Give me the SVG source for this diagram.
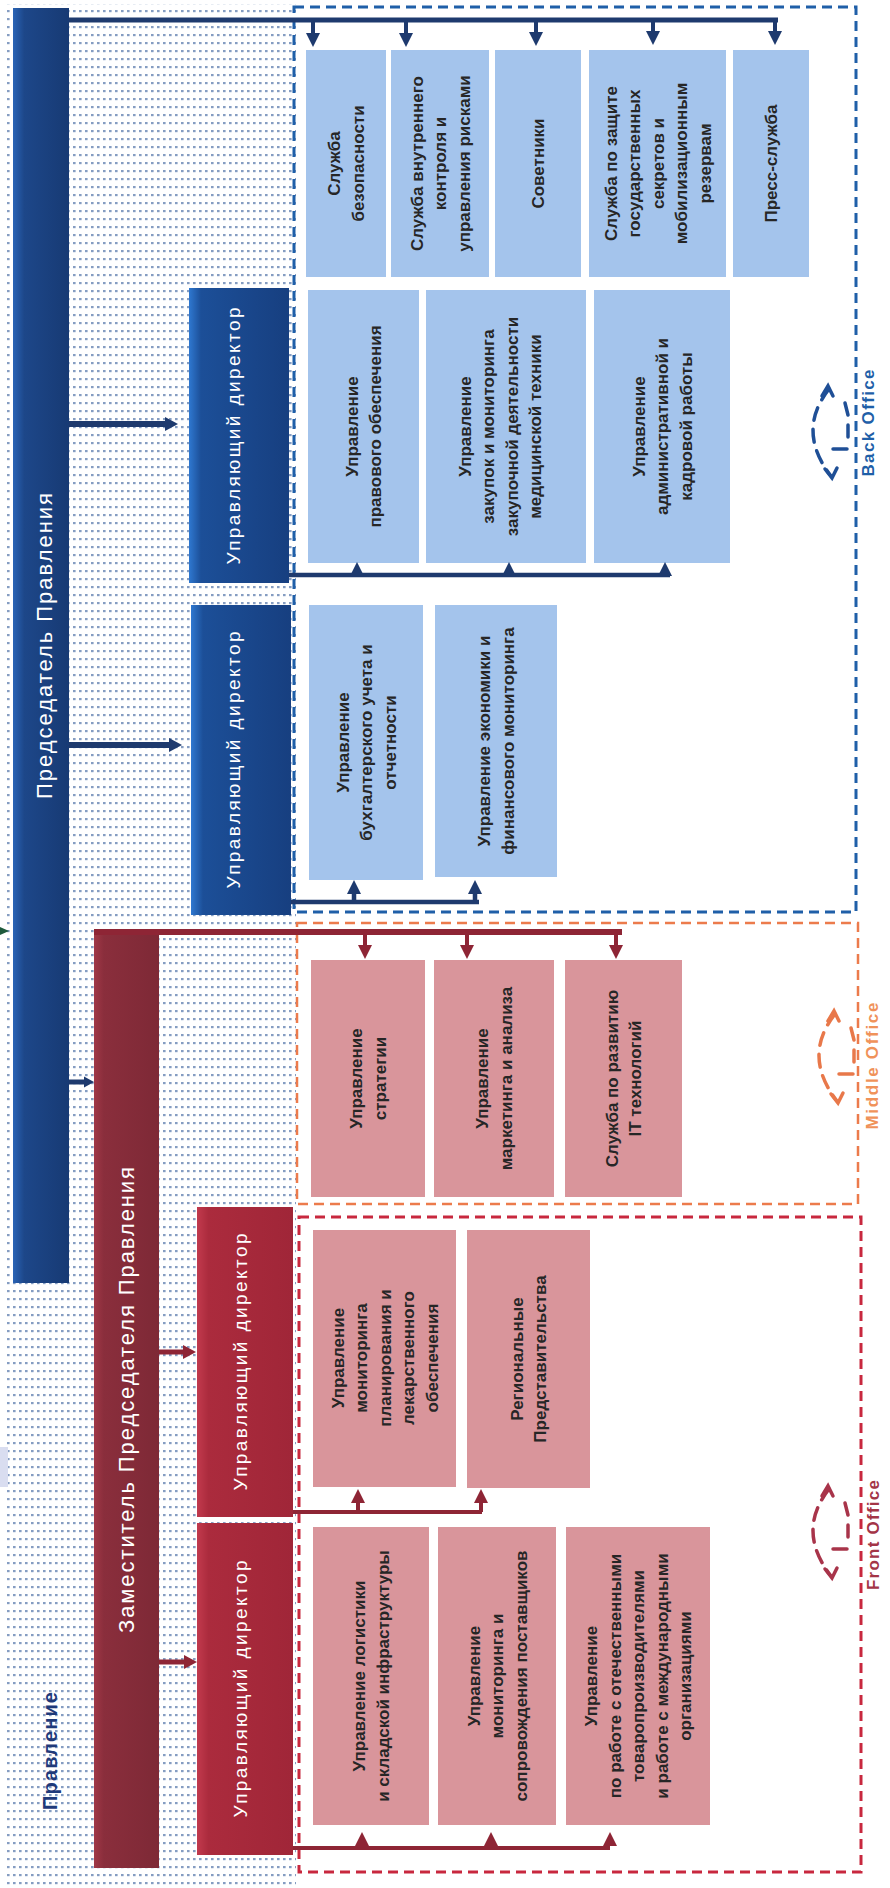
<svg xmlns="http://www.w3.org/2000/svg" xmlns:xlink="http://www.w3.org/1999/xlink" width="890" height="1888" viewBox="0 0 890 1888">
<defs>
<style>
.bt{font-family:"Liberation Sans",Arial,sans-serif;font-size:17px;font-weight:bold;fill:#262626;text-anchor:middle;dominant-baseline:central}
.wl{font-family:"Liberation Sans",Arial,sans-serif;fill:#ffffff;text-anchor:middle;dominant-baseline:central}
.ol{font-family:"Liberation Sans",Arial,sans-serif;font-weight:bold;text-anchor:middle;dominant-baseline:central}
.lb{fill:#a4c4ec}
.pk{fill:#d9959b}
.cb{fill:none;stroke:#1e3a6e;stroke-linecap:butt}
.cr{fill:none;stroke:#8e2535;stroke-linecap:butt}
.hb{fill:#1e3a6e}
.hr{fill:#8e2535}
.dashB{fill:none;stroke:#1f5fa8;stroke-width:3;stroke-dasharray:10 6}
.dashO{fill:none;stroke:#ec7b4c;stroke-width:2.5;stroke-dasharray:10 6}
.dashR{fill:none;stroke:#c8283e;stroke-width:3;stroke-dasharray:10 6}
</style>
<pattern id="dots" width="6" height="8" patternUnits="userSpaceOnUse">
<rect x="1" y="2" width="2.6" height="2.2" fill="#859dc2"/>
</pattern>
<linearGradient id="gChair" x1="0" y1="0" x2="1" y2="0">
<stop offset="0" stop-color="#2a64b6"/><stop offset="0.2" stop-color="#1d4789"/><stop offset="1" stop-color="#173a74"/>
</linearGradient>
<linearGradient id="gMdB" x1="0" y1="0" x2="1" y2="0">
<stop offset="0" stop-color="#2f78d0"/><stop offset="0.12" stop-color="#1c4f98"/><stop offset="1" stop-color="#173f80"/>
</linearGradient>
<linearGradient id="gDep" x1="0" y1="0" x2="1" y2="0">
<stop offset="0" stop-color="#a13847"/><stop offset="0.15" stop-color="#8a2e3c"/><stop offset="1" stop-color="#7e2936"/>
</linearGradient>
<linearGradient id="gMdR" x1="0" y1="0" x2="1" y2="0">
<stop offset="0" stop-color="#c23a4d"/><stop offset="0.12" stop-color="#ab2b3d"/><stop offset="1" stop-color="#a02638"/>
</linearGradient>
<path id="ahDown" d="M-7,-14 L7,-14 L0,0 Z"/>
<path id="ahUp" d="M-7,14 L7,14 L0,0 Z"/>
<path id="ahRight" d="M-13,-7 L-13,7 L0,0 Z"/>
<path id="ahRightS" d="M-10,-5.5 L-10,5.5 L0,0 Z"/>
<g id="cyc" fill="none" stroke="currentColor" stroke-width="3.5" stroke-linecap="round">
<path d="M-1,-42 Q-34,0 1,45" stroke-dasharray="13 9"/>
<path d="M-8,-35 L-2,-45 L3,-35"/>
<path d="M-5,38 L2,47 L7,37"/>
<path d="M15,-28 L18,-16"/>
<path d="M3,18 L17,18"/>
<path d="M18,-6 L18,6"/>
</g>
</defs>

<rect x="0" y="0" width="890" height="1888" fill="#ffffff"/>
<rect x="4" y="4" width="292" height="1882" fill="url(#dots)"/>
<rect x="0" y="1447" width="8" height="40" fill="#d9ddf0"/>

<g id="offices">
<rect class="dashB" x="294" y="7" width="562" height="905"/>
<rect class="dashO" x="297" y="923" width="561" height="281"/>
<rect class="dashR" x="299" y="1217" width="562" height="655"/>
</g>

<g id="chairman">
<rect x="13" y="8" width="56" height="1275" fill="url(#gChair)"/>
<text class="wl" font-size="22" textLength="306" transform="translate(44,646) rotate(-90)">Председатель Правления</text>
</g>
<g id="deputy">
<rect x="94" y="932" width="65" height="936" fill="url(#gDep)"/>
<text class="wl" font-size="22" textLength="466" transform="translate(126,1400) rotate(-90)">Заместитель Председателя Правления</text>
</g>
<g id="md1">
<rect x="189" y="288" width="100" height="295" fill="url(#gMdB)"/>
<text class="wl" font-size="19" textLength="257" transform="translate(233,436) rotate(-90)">Управляющий директор</text>
</g>
<g id="md2">
<rect x="191" y="605" width="100" height="310" fill="url(#gMdB)"/>
<text class="wl" font-size="19" textLength="257" transform="translate(233,760) rotate(-90)">Управляющий директор</text>
</g>
<g id="md3">
<rect x="197" y="1207" width="96" height="310" fill="url(#gMdR)"/>
<text class="wl" font-size="19" textLength="257" transform="translate(240,1362) rotate(-90)">Управляющий директор</text>
</g>
<g id="md4">
<rect x="197" y="1523" width="96" height="332" fill="url(#gMdR)"/>
<text class="wl" font-size="19" textLength="257" transform="translate(240,1689) rotate(-90)">Управляющий директор</text>
</g>

<g id="b-security">
<rect class="lb" x="306" y="50" width="80" height="227"/>
<text class="bt" transform="translate(346,163.5) rotate(-90)"><tspan x="0" y="-11.75">Служба</tspan><tspan x="0" y="11.75">безопасности</tspan></text>
</g>
<g id="b-control">
<rect class="lb" x="391" y="50" width="98" height="227"/>
<text class="bt" transform="translate(440,163.5) rotate(-90)"><tspan x="0" y="-23.5">Служба внутреннего</tspan><tspan x="0" y="0">контроля и</tspan><tspan x="0" y="23.5">управления рисками</tspan></text>
</g>
<g id="b-advisors">
<rect class="lb" x="495" y="50" width="86" height="227"/>
<text class="bt" transform="translate(538,163.5) rotate(-90)"><tspan x="0" y="0">Советники</tspan></text>
</g>
<g id="b-secrets">
<rect class="lb" x="589" y="50" width="137" height="227"/>
<text class="bt" transform="translate(657.5,163.5) rotate(-90)"><tspan x="0" y="-47">Служба по защите</tspan><tspan x="0" y="-23.5">государственных</tspan><tspan x="0" y="0">секретов и</tspan><tspan x="0" y="23.5">мобилизационным</tspan><tspan x="0" y="47">резервам</tspan></text>
</g>
<g id="b-press">
<rect class="lb" x="733" y="50" width="76" height="227"/>
<text class="bt" transform="translate(771,163.5) rotate(-90)"><tspan x="0" y="0">Пресс-служба</tspan></text>
</g>

<g id="b-legal">
<rect class="lb" x="308" y="290" width="111" height="273"/>
<text class="bt" transform="translate(363.5,426.5) rotate(-90)"><tspan x="0" y="-11.75">Управление</tspan><tspan x="0" y="11.75">правового обеспечения</tspan></text>
</g>
<g id="b-procure">
<rect class="lb" x="426" y="290" width="160" height="273"/>
<text class="bt" transform="translate(500,426.5) rotate(-90)"><tspan x="0" y="-35.25">Управление</tspan><tspan x="0" y="-11.75">закупок и мониторинга</tspan><tspan x="0" y="11.75">закупочной деятельности</tspan><tspan x="0" y="35.25">медицинской техники</tspan></text>
</g>
<g id="b-admin">
<rect class="lb" x="594" y="290" width="136" height="273"/>
<text class="bt" transform="translate(662,426.5) rotate(-90)"><tspan x="0" y="-23.5">Управление</tspan><tspan x="0" y="0">административной и</tspan><tspan x="0" y="23.5">кадровой работы</tspan></text>
</g>

<g id="b-accounting">
<rect class="lb" x="309" y="605" width="114" height="275"/>
<text class="bt" transform="translate(366,742.5) rotate(-90)"><tspan x="0" y="-23.5">Управление</tspan><tspan x="0" y="0">бухгалтерского учета и</tspan><tspan x="0" y="23.5">отчетности</tspan></text>
</g>
<g id="b-economy">
<rect class="lb" x="435" y="605" width="122" height="272"/>
<text class="bt" transform="translate(496,741) rotate(-90)"><tspan x="0" y="-11.75">Управление экономики и</tspan><tspan x="0" y="11.75">финансового мониторинга</tspan></text>
</g>

<g id="m-strategy">
<rect class="pk" x="311" y="960" width="114" height="237"/>
<text class="bt" transform="translate(368,1078.5) rotate(-90)"><tspan x="0" y="-11.75">Управление</tspan><tspan x="0" y="11.75">стратегии</tspan></text>
</g>
<g id="m-marketing">
<rect class="pk" x="434" y="960" width="120" height="237"/>
<text class="bt" transform="translate(494,1078.5) rotate(-90)"><tspan x="0" y="-11.75">Управление</tspan><tspan x="0" y="11.75">маркетинга и анализа</tspan></text>
</g>
<g id="m-it">
<rect class="pk" x="565" y="960" width="117" height="237"/>
<text class="bt" transform="translate(623.5,1078.5) rotate(-90)"><tspan x="0" y="-11.75">Служба по развитию</tspan><tspan x="0" y="11.75">IT технологий</tspan></text>
</g>

<g id="f-monitoring">
<rect class="pk" x="313" y="1230" width="143" height="257"/>
<text class="bt" transform="translate(384.5,1358) rotate(-90)"><tspan x="0" y="-47">Управление</tspan><tspan x="0" y="-23.5">мониторинга</tspan><tspan x="0" y="0">планирования и</tspan><tspan x="0" y="23.5">лекарственного</tspan><tspan x="0" y="47">обеспечения</tspan></text>
</g>
<g id="f-regional">
<rect class="pk" x="467" y="1230" width="123" height="258"/>
<text class="bt" transform="translate(528.5,1359) rotate(-90)"><tspan x="0" y="-11.75">Региональные</tspan><tspan x="0" y="11.75">Представительства</tspan></text>
</g>
<g id="f-logistics">
<rect class="pk" x="313" y="1527" width="116" height="298"/>
<text class="bt" transform="translate(371,1676) rotate(-90)"><tspan x="0" y="-11.75">Управление логистики</tspan><tspan x="0" y="11.75">и складской инфраструктуры</tspan></text>
</g>
<g id="f-suppliers">
<rect class="pk" x="438" y="1527" width="118" height="298"/>
<text class="bt" transform="translate(497,1676) rotate(-90)"><tspan x="0" y="-23.5">Управление</tspan><tspan x="0" y="0">мониторинга и</tspan><tspan x="0" y="23.5">сопровождения поставщиков</tspan></text>
</g>
<g id="f-producers">
<rect class="pk" x="566" y="1527" width="144" height="298"/>
<text class="bt" transform="translate(638,1676) rotate(-90)"><tspan x="0" y="-47">Управление</tspan><tspan x="0" y="-23.5">по работе с отечественными</tspan><tspan x="0" y="0">товаропроизводителями</tspan><tspan x="0" y="23.5">и работе с международными</tspan><tspan x="0" y="47">организациями</tspan></text>
</g>

<g id="connectors">
<path class="cb" stroke-width="5" d="M69 20 H778"/>
<path class="cb" stroke-width="4" d="M313 20 V34 M406 20 V34 M536 20 V33 M653 20 V32 M775 20 V32"/>
<use href="#ahDown" class="hb" x="313" y="47"/>
<use href="#ahDown" class="hb" x="406" y="47"/>
<use href="#ahDown" class="hb" x="536" y="46"/>
<use href="#ahDown" class="hb" x="653" y="45"/>
<use href="#ahDown" class="hb" x="775" y="45"/>

<path class="cb" stroke-width="6" d="M69 424 H166"/>
<use href="#ahRight" class="hb" x="178" y="424"/>
<path class="cb" stroke-width="6" d="M69 745 H170"/>
<use href="#ahRight" class="hb" x="182" y="745"/>
<path class="cb" stroke-width="5" d="M69 1082 H84"/>
<use href="#ahRightS" class="hb" x="94" y="1082"/>

<path class="cb" stroke-width="4.5" d="M289 575 H670"/>
<use href="#ahUp" class="hb" x="357" y="562"/>
<use href="#ahUp" class="hb" x="509" y="562"/>
<use href="#ahUp" class="hb" x="665" y="562"/>

<path class="cb" stroke-width="4.5" d="M291 902 H479 M354 902 V893 M475 902 V893"/>
<use href="#ahUp" class="hb" x="354" y="880"/>
<use href="#ahUp" class="hb" x="475" y="880"/>

<path class="cr" stroke-width="6" d="M94 932 H622"/>
<path class="cr" stroke-width="4" d="M365 932 V947 M467 932 V947 M616 932 V947"/>
<use href="#ahDown" class="hr" x="365" y="959"/>
<use href="#ahDown" class="hr" x="467" y="959"/>
<use href="#ahDown" class="hr" x="616" y="959"/>

<path class="cr" stroke-width="5" d="M159 1352 H184"/>
<use href="#ahRight" class="hr" x="196" y="1352"/>
<path class="cr" stroke-width="5" d="M159 1662 H185"/>
<use href="#ahRight" class="hr" x="197" y="1662"/>

<path class="cr" stroke-width="4" d="M293 1512 H482 M358 1512 V1502 M481 1512 V1502"/>
<use href="#ahUp" class="hr" x="358" y="1489"/>
<use href="#ahUp" class="hr" x="481" y="1489"/>

<path class="cr" stroke-width="4" d="M293 1848 H610"/>
<use href="#ahUp" class="hr" x="362" y="1832"/>
<use href="#ahUp" class="hr" x="491" y="1832"/>
<use href="#ahUp" class="hr" x="610" y="1832"/>

<path d="M0 927 L9 931 L0 935 Z" fill="#1e5a3c"/>
</g>

<g id="labels">
<use href="#cyc" x="830" y="431" style="color:#1f4f96"/>
<text class="ol" font-size="17" textLength="107" fill="#1f5fa8" transform="translate(868,423) rotate(-90)">Back Office</text>
<use href="#cyc" x="836" y="1056" style="color:#e8784a"/>
<text class="ol" font-size="17" textLength="127" fill="#f0925a" transform="translate(872,1066) rotate(-90)">Middle Office</text>
<use href="#cyc" x="830" y="1531" style="color:#a8344a"/>
<text class="ol" font-size="17" textLength="110" fill="#a33547" transform="translate(873,1535) rotate(-90)">Front Office</text>
<text class="ol" font-size="20" textLength="118" fill="#1f3a7a" transform="translate(50,1751) rotate(-90)">Правление</text>
</g>
</svg>
